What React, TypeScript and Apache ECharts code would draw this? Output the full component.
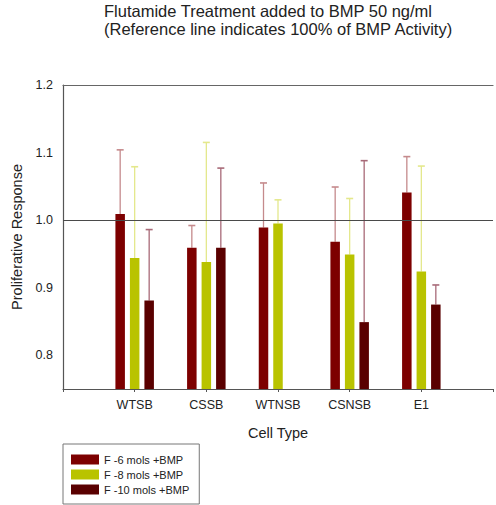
import React, { useEffect, useRef } from "react";
import * as echarts from "echarts";

const categories = ["", "WTSB", "CSSB", "WTNSB", "CSNSB", "E1", ""];
const seriesNames = ["F -6 mols +BMP", "F -8 mols +BMP", "F -10 mols +BMP"];
const meanF6 = [null, 1.009, 0.959, 0.989, 0.968, 1.041, null];
const meanF8 = [null, 0.944, 0.938, 0.995, 0.949, 0.924, null];
const meanF10 = [null, 0.881, 0.959, null, 0.849, 0.875, null];
const errTopF6 = [null, 1.104, 0.992, 1.055, 1.049, 1.094, null];
const errTopF8 = [null, 1.079, 1.115, 1.03, 1.032, 1.08, null];
const errTopF10 = [null, 0.986, 1.077, null, 1.088, 0.904, null];
const yTicks = [0.8, 0.9, 1.0, 1.1, 1.2];
const referenceValue = 1.0;
const titleLines = [
  "Flutamide Treatment added to BMP 50 ng/ml",
  "(Reference line indicates 100% of BMP Activity)",
];

const barColors = ["#7d0000", "#b9c300", "#5a0000"];
const errColors = ["#c58a8c", "#e4e88c", "#a86a78"];
const BAR_W = 9.5;
const STEP = 14.5;

export default function App() {
  const ref = useRef<HTMLDivElement>(null);
  useEffect(() => {
    if (!ref.current) return;
    const chart = echarts.init(ref.current, null, { renderer: "svg" });
    const means = [meanF6, meanF8, meanF10];
    const tops = [errTopF6, errTopF8, errTopF10];
    const font = "Liberation Sans, Arial, sans-serif";

    const barSeries: any[] = means.map((m, i) => ({
      type: "bar",
      name: seriesNames[i],
      data: m,
      barWidth: BAR_W,
      barGap: ((STEP - BAR_W) / BAR_W) * 100 + "%",
      itemStyle: { color: barColors[i] },
      clip: true,
      z: 2,
      ...(i === 0
        ? {
            markLine: {
              silent: true,
              symbol: "none",
              label: { show: false },
              lineStyle: { color: "#4a4a4a", width: 1.2, type: "solid" },
              data: [{ yAxis: referenceValue }],
              z: 5,
            },
          }
        : {}),
    }));

    const errSeries: any[] = means.map((m, i) => ({
      type: "custom",
      name: seriesNames[i] + " err",
      data: m.map((v, k) => [k, v, tops[i][k]]),
      z: 1,
      renderItem: (params: any, api: any) => {
        const mean = api.value(1);
        const top = api.value(2);
        if (mean == null || top == null || isNaN(mean) || isNaN(top)) return null;
        const base = api.coord([api.value(0), mean]);
        const hi = api.coord([api.value(0), top]);
        const x = base[0] + (i - 1) * STEP;
        return {
          type: "group",
          children: [
            {
              type: "line",
              shape: { x1: x, y1: base[1], x2: x, y2: hi[1] },
              style: { stroke: errColors[i], lineWidth: 1.3 },
            },
            {
              type: "line",
              shape: { x1: x - 3.5, y1: hi[1], x2: x + 3.5, y2: hi[1] },
              style: { stroke: errColors[i], lineWidth: 1.6 },
            },
          ],
        };
      },
    }));

    chart.setOption({
      animation: false,
      textStyle: { fontFamily: font },
      title: titleLines.map((t, i) => ({
        text: t,
        left: 104,
        top: i === 0 ? 3 : 21,
        padding: 0,
        textStyle: {
          fontSize: 16.5,
          lineHeight: 16,
          fontWeight: "normal",
          color: "#222",
          fontFamily: font,
        },
      })),
      legend: {
        orient: "vertical",
        left: 63,
        top: 444,
        data: seriesNames,
        itemWidth: 28,
        itemHeight: 10,
        itemGap: 4,
        padding: [10, 10, 9, 8],
        borderColor: "#777",
        borderWidth: 1,
        icon: "rect",
        textStyle: { fontSize: 11, color: "#222", fontFamily: font },
      },
      grid: { left: 63, right: -6, top: 85, bottom: 116 },
      xAxis: [
        {
          type: "category",
          data: categories,
          boundaryGap: false,
          axisLine: { lineStyle: { color: "#555", width: 1.2 } },
          axisTick: { length: 3, lineStyle: { color: "#555" } },
          axisLabel: { fontSize: 12.5, color: "#222", margin: 9, interval: 0 },
          name: "Cell Type",
          nameLocation: "middle",
          nameGap: 36,
          nameTextStyle: { fontSize: 14.5, color: "#222" },
        },
        {
          type: "category",
          data: categories,
          position: "top",
          boundaryGap: false,
          axisLine: { lineStyle: { color: "#666", width: 1.2 } },
          axisTick: { show: false },
          axisLabel: { show: false },
        },
      ],
      yAxis: {
        type: "value",
        min: 0.75,
        max: 1.2,
        interval: 0.05,
        axisLine: { show: true, lineStyle: { color: "#555", width: 1.2 } },
        axisTick: { show: false },
        splitLine: { show: false },
        axisLabel: {
          fontSize: 12.5,
          color: "#222",
          margin: 10,
          formatter: (v: number) => {
            const hit = yTicks.find((t) => Math.abs(t - v) < 1e-6);
            return hit === undefined ? "" : hit.toFixed(1);
          },
        },
        name: "Proliferative Response",
        nameLocation: "middle",
        nameGap: 38,
        nameTextStyle: { fontSize: 14.5, color: "#222" },
      },
      series: [...barSeries, ...errSeries],
    });
    return () => chart.dispose();
  }, []);
  return <div ref={ref} style={{ width: 496, height: 505, position: "absolute", left: 0, top: 0 }} />;
}
